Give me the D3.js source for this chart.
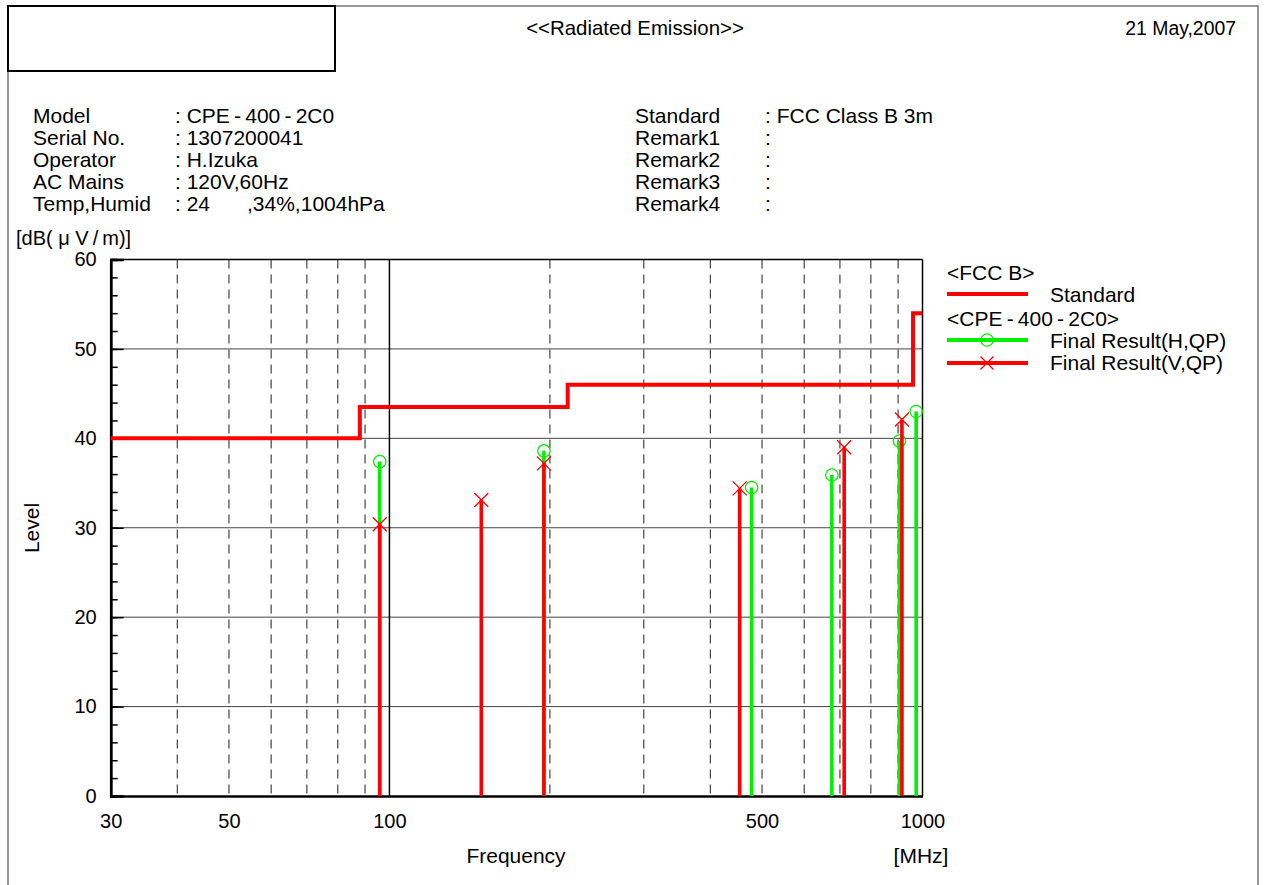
<!DOCTYPE html>
<html>
<head>
<meta charset="utf-8">
<script src="https://cdn.jsdelivr.net/npm/d3@7"></script>
<style>
  html, body { margin: 0; padding: 0; background: #fff; }
  svg { display: block; font-family: "Liberation Sans", Arial, Helvetica, sans-serif; }
  text { fill: #000; }
</style>
</head>
<body>
<svg id="chart" width="1264" height="885"></svg>
<script>
// ---- Data ----
const infoLeftLabels  = ["Model", "Serial No.", "Operator", "AC Mains", "Temp,Humid"];
const infoLeftValues  = [": CPE\u2009-\u2009400\u2009-\u20092C0", ": 1307200041", ": H.Izuka", ": 120V,60Hz", ": 24"];
const infoRightLabels = ["Standard", "Remark1", "Remark2", "Remark3", "Remark4"];
const infoRightValues = [": FCC Class B 3m", ":", ":", ":", ":"];

// FCC Class B 3 m limit: [start MHz, end MHz, dBuV/m]
const limitSegments = [[30, 88, 40], [88, 216, 43.5], [216, 960, 46], [960, 1000, 54]];

// Final results, quasi-peak: [MHz, dBuV/m]
const finalH = [[95.9, 37.4], [194.9, 38.6], [478, 34.5], [676, 35.9], [905, 39.7], [973, 43.0]];
const finalV = [[95.9, 30.4], [148.7, 33.1], [194.9, 37.2], [454, 34.4], [713, 39.0], [915, 42.1]];

const xLabelTicks = [30, 50, 100, 500, 1000];
const xDashedGrid = [40, 50, 60, 70, 80, 90, 200, 300, 400, 500, 600, 700, 800, 900];
const xSolidGrid  = [100];
const yMajorTicks = [0, 10, 20, 30, 40, 50, 60];
const yMinorTicks = d3.range(0, 61, 2);

// ---- Layout ----
const svg = d3.select("#chart");
const FS = 20;      // numbers, title, date
const FT = 21;      // descriptive text
const plot = { left: 110.7, right: 922.5, top: 259.5, bottom: 796 };

const x = d3.scaleLog().domain([30, 1000]).range([plot.left, plot.right]);
const y = d3.scaleLinear().domain([0, 60]).range([plot.bottom, plot.top]);

// Page frame
svg.append("path")
  .attr("d", "M8,885 L8,6 L1258,6 L1258,885")
  .attr("fill", "none").attr("stroke", "#777").attr("stroke-width", 1.5);
svg.append("rect")
  .attr("x", 8).attr("y", 6).attr("width", 327).attr("height", 65)
  .attr("fill", "none").attr("stroke", "#000").attr("stroke-width", 2);

// Header
svg.append("text").attr("x", 635).attr("y", 35).attr("text-anchor", "middle")
  .attr("font-size", 20.4).text("<<Radiated Emission>>");
svg.append("text").attr("x", 1236).attr("y", 35).attr("text-anchor", "end")
  .attr("font-size", 19.4).text("21 May,2007");

// Info block
const rowY = i => 123 + i * 22;
infoLeftLabels.forEach((t, i) => {
  svg.append("text").attr("x", 33).attr("y", rowY(i)).attr("font-size", FT).text(t);
  svg.append("text").attr("x", 175).attr("y", rowY(i)).attr("font-size", FT).text(infoLeftValues[i]);
});
svg.append("text").attr("x", 247).attr("y", rowY(4)).attr("font-size", FT).text(",34%,1004hPa");
infoRightLabels.forEach((t, i) => {
  svg.append("text").attr("x", 635).attr("y", rowY(i)).attr("font-size", FT).text(t);
  svg.append("text").attr("x", 765).attr("y", rowY(i)).attr("font-size", FT).text(infoRightValues[i]);
});

// Unit label
svg.append("text").attr("x", 16).attr("y", 245).attr("font-size", FS)
  .text("[dB( \u03bc V\u2009/\u2009m)]");

// ---- Grid ----
const g = svg.append("g");
g.selectAll("line.hgrid").data(yMajorTicks.filter(v => v > 0 && v < 60)).join("line")
  .attr("x1", plot.left).attr("x2", plot.right)
  .attr("y1", d => y(d)).attr("y2", d => y(d))
  .attr("stroke", "#444").attr("stroke-width", 1);
g.selectAll("line.vdash").data(xDashedGrid).join("line")
  .attr("x1", d => x(d)).attr("x2", d => x(d))
  .attr("y1", plot.top).attr("y2", plot.bottom)
  .attr("stroke", "#444").attr("stroke-width", 1.2).attr("stroke-dasharray", "9,6");
g.selectAll("line.vsolid").data(xSolidGrid).join("line")
  .attr("x1", d => x(d)).attr("x2", d => x(d))
  .attr("y1", plot.top).attr("y2", plot.bottom)
  .attr("stroke", "#000").attr("stroke-width", 1.5);

// Plot frame: top and right thin, left and bottom heavier
svg.append("line").attr("x1", plot.left).attr("x2", plot.right).attr("y1", plot.top).attr("y2", plot.top)
  .attr("stroke", "#000").attr("stroke-width", 1.5);
svg.append("line").attr("x1", plot.right).attr("x2", plot.right).attr("y1", plot.top).attr("y2", plot.bottom)
  .attr("stroke", "#000").attr("stroke-width", 1.5);

// ---- Axes ----
const yMinor = d3.axisLeft(y).tickValues(yMinorTicks).tickSize(-7).tickFormat("");
const yMajor = d3.axisLeft(y).tickValues(yMajorTicks).tickSize(-13).tickPadding(14).tickFormat(d3.format("d"));
const yAxisMinor = svg.append("g").attr("transform", `translate(${plot.left},0)`).call(yMinor);
const yAxisMajor = svg.append("g").attr("transform", `translate(${plot.left},0)`).call(yMajor);
[yAxisMinor, yAxisMajor].forEach(a => {
  a.select(".domain").attr("stroke", "#000").attr("stroke-width", 2.5);
  a.selectAll(".tick line").attr("stroke", "#000").attr("stroke-width", 1.5);
});
yAxisMajor.selectAll(".tick text").attr("font-size", FS).attr("font-family", "Liberation Sans, Arial, sans-serif").attr("fill", "#000");

const xAxis = d3.axisBottom(x).tickValues(xLabelTicks).tickSize(0).tickPadding(18).tickFormat(d3.format("d"));
const xAxisG = svg.append("g").attr("transform", `translate(0,${plot.bottom})`).call(xAxis);
xAxisG.select(".domain").attr("stroke", "#000").attr("stroke-width", 2.5);
xAxisG.selectAll(".tick text").attr("font-size", FS).attr("font-family", "Liberation Sans, Arial, sans-serif").attr("fill", "#000");

// Axis titles
svg.append("text").attr("transform", "translate(39,528) rotate(-90)")
  .attr("text-anchor", "middle").attr("font-size", FT).text("Level");
svg.append("text").attr("x", 516).attr("y", 863).attr("text-anchor", "middle")
  .attr("font-size", FT).text("Frequency");
svg.append("text").attr("x", 921).attr("y", 863).attr("text-anchor", "middle")
  .attr("font-size", FT).text("[MHz]");

// ---- Limit line ----
const RED = "#ff0000", GREEN = "#00f000";
const limitPts = [];
limitSegments.forEach(s => { limitPts.push([s[0], s[2]]); limitPts.push([s[1], s[2]]); });
svg.append("path")
  .attr("d", d3.line().x(d => x(d[0])).y(d => y(d[1]))(limitPts))
  .attr("fill", "none").attr("stroke", RED).attr("stroke-width", 4).attr("stroke-linejoin", "miter");

// ---- Final results: stems with markers ----
const cross = (sel, cx, cy, r) => sel.append("path")
  .attr("d", `M${cx - r},${cy - r}L${cx + r},${cy + r}M${cx - r},${cy + r}L${cx + r},${cy - r}`)
  .attr("stroke", RED).attr("stroke-width", 1.3).attr("fill", "none");

const gH = svg.append("g");
gH.selectAll("line").data(finalH).join("line")
  .attr("x1", d => x(d[0])).attr("x2", d => x(d[0]))
  .attr("y1", plot.bottom).attr("y2", d => y(d[1]))
  .attr("stroke", GREEN).attr("stroke-width", 3.6);
gH.selectAll("circle").data(finalH).join("circle")
  .attr("cx", d => x(d[0])).attr("cy", d => y(d[1])).attr("r", 6.2)
  .attr("fill", "none").attr("stroke", GREEN).attr("stroke-width", 1.3);

const gV = svg.append("g");
gV.selectAll("line").data(finalV).join("line")
  .attr("x1", d => x(d[0])).attr("x2", d => x(d[0]))
  .attr("y1", plot.bottom).attr("y2", d => y(d[1]))
  .attr("stroke", RED).attr("stroke-width", 3.6);
finalV.forEach(d => cross(gV, x(d[0]), y(d[1]), 7));

// ---- Legend ----
const lg = svg.append("g");
lg.append("text").attr("x", 947).attr("y", 280).attr("font-size", FT).text("<FCC B>");
lg.append("line").attr("x1", 947).attr("x2", 1028).attr("y1", 294).attr("y2", 294)
  .attr("stroke", RED).attr("stroke-width", 4);
lg.append("text").attr("x", 1050).attr("y", 302).attr("font-size", FT).text("Standard");
lg.append("text").attr("x", 947).attr("y", 326).attr("font-size", FT)
  .text("<CPE\u2009-\u2009400\u2009-\u20092C0>");
lg.append("line").attr("x1", 947).attr("x2", 1028).attr("y1", 340).attr("y2", 340)
  .attr("stroke", GREEN).attr("stroke-width", 4);
lg.append("circle").attr("cx", 987).attr("cy", 340).attr("r", 6.2)
  .attr("fill", "none").attr("stroke", GREEN).attr("stroke-width", 1.3);
lg.append("text").attr("x", 1050).attr("y", 348).attr("font-size", FT).text("Final Result(H,QP)");
lg.append("line").attr("x1", 947).attr("x2", 1028).attr("y1", 363).attr("y2", 363)
  .attr("stroke", RED).attr("stroke-width", 4);
cross(lg, 987, 363, 6.5);
lg.append("text").attr("x", 1050).attr("y", 370).attr("font-size", FT).text("Final Result(V,QP)");
</script>
</body>
</html>
